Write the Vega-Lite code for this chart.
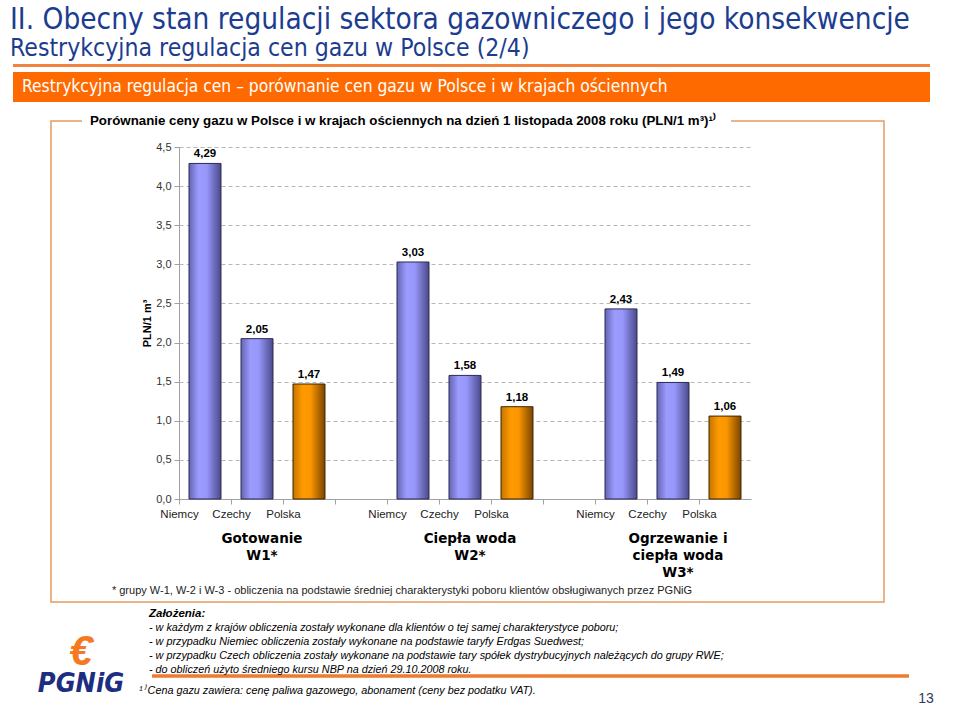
{
  "$schema": "https://vega.github.io/schema/vega-lite/v6.json",
  "padding": {"left": 10, "top": 4, "right": 5, "bottom": 0},
  "background": "white",
  "config": {
    "font": "Liberation Sans",
    "view": {"stroke": null}
  },
  "title": {
    "text": "II. Obecny stan regulacji sektora gazowniczego i jego konsekwencje",
    "subtitle": "Restrykcyjna regulacja cen gazu w Polsce (2/4)",
    "anchor": "start",
    "frame": "bounds",
    "font": "DejaVu Sans Condensed, Liberation Sans Narrow, sans-serif",
    "fontSize": 29.5,
    "fontWeight": "normal",
    "color": "#1c3d8f",
    "subtitleFont": "DejaVu Sans Condensed, Liberation Sans Narrow, sans-serif",
    "subtitleFontSize": 24.6,
    "subtitleColor": "#1c3d8f",
    "subtitlePadding": 2,
    "offset": 2,
    "dx": -3
  },
  "datasets": {
    "prices": [
      {"slot": "1_Niemcy", "kraj": "Niemcy", "grupa": "W1", "cena": 4.29},
      {"slot": "1_Czechy", "kraj": "Czechy", "grupa": "W1", "cena": 2.05},
      {"slot": "1_Polska", "kraj": "Polska", "grupa": "W1", "cena": 1.47},
      {"slot": "2_Niemcy", "kraj": "Niemcy", "grupa": "W2", "cena": 3.03},
      {"slot": "2_Czechy", "kraj": "Czechy", "grupa": "W2", "cena": 1.58},
      {"slot": "2_Polska", "kraj": "Polska", "grupa": "W2", "cena": 1.18},
      {"slot": "3_Niemcy", "kraj": "Niemcy", "grupa": "W3", "cena": 2.43},
      {"slot": "3_Czechy", "kraj": "Czechy", "grupa": "W3", "cena": 1.49},
      {"slot": "3_Polska", "kraj": "Polska", "grupa": "W3", "cena": 1.06}
    ],
    "grupy": [
      {"slot": "1_Czechy", "nazwa": "Gotowanie|W1*"},
      {"slot": "2_Czechy", "nazwa": "Ciepła woda|W2*"},
      {"slot": "3_Czechy", "nazwa": "Ogrzewanie i|ciepła woda|W3*"}
    ],
    "przypis": [
      {"tekst": "*  grupy W-1, W-2 i W-3  - obliczenia na podstawie średniej charakterystyki poboru klientów obsługiwanych przez PGNiG"}
    ]
  },
  "spacing": 0,
  "vconcat": [
    {
      "width": 917, "height": 3,
      "view": {"fill": "#f0843c", "stroke": null},
      "data": {"values": []},
      "mark": "text",
      "encoding": {"text": {"value": ""}}
    },
    {
      "width": 1, "height": 5,
      "data": {"values": []},
      "mark": "text",
      "encoding": {"text": {"value": ""}}
    },
    {
      "width": 917, "height": 30,
      "view": {"fill": "#ff6a00", "stroke": null},
      "title": {
        "text": "Restrykcyjna regulacja cen – porównanie cen gazu w Polsce i w krajach ościennych",
        "anchor": "start", "frame": "group", "orient": "top",
        "dx": 9, "offset": -32.3, "baseline": "middle",
        "color": "white",
        "font": "DejaVu Sans Condensed, Liberation Sans Narrow, sans-serif",
        "fontSize": 17.3, "fontWeight": "normal"
      },
      "data": {"values": []},
      "mark": "text",
      "encoding": {"text": {"value": ""}}
    },
    {
      "width": 1, "height": 10.5,
      "data": {"values": []},
      "mark": "text",
      "encoding": {"text": {"value": ""}}
    },
    {
      "spacing": 0,
      "bounds": "flush",
      "hconcat": [
        {
          "width": 38, "height": 481,
          "data": {"values": []},
          "mark": "text",
          "encoding": {"text": {"value": ""}}
        },
        {
          "width": 833, "height": 481,
          "view": {"stroke": "#e39b62", "strokeWidth": 1.5, "strokeDash": [31, 649, 3000]},
          "title": {
            "text": "Porównanie ceny gazu w Polsce i w krajach ościennych na dzień 1 listopada 2008 roku (PLN/1 m³)¹⁾",
            "anchor": "start", "frame": "group", "orient": "top",
            "dx": 39, "offset": -13.3, "baseline": "middle",
            "fontSize": 13.3, "fontWeight": "bold", "color": "#000"
          },
          "data": {"name": "prices"},
          "layer": [
            {
              "transform": [{"filter": "datum.kraj != 'Polska'"}],
              "mark": {
                "type": "bar", "width": {"band": 0.615}, "stroke": "#2a2a55", "strokeWidth": 1,
                "fill": {"gradient": "linear", "x1": 0, "x2": 1, "y1": 0, "y2": 0,
                         "stops": [{"offset": 0, "color": "#6464b4"}, {"offset": 0.3, "color": "#9c9cff"}, {"offset": 0.55, "color": "#9797fb"}, {"offset": 1, "color": "#4a4a8a"}]}
              },
              "encoding": {
                "x": {"field": "slot", "type": "nominal",
                      "scale": {"domain": ["1_Niemcy","1_Czechy","1_Polska","gap1","2_Niemcy","2_Czechy","2_Polska","gap2","3_Niemcy","3_Czechy","3_Polska"], "range": [128, 700], "paddingInner": 0, "paddingOuter": 0},
                      "axis": {"orient": "bottom", "offset": -103, "domain": true, "domainColor": "#a0a0a0", "grid": false,
                               "ticks": true, "tickSize": 5, "tickColor": "#a0a0a0", "tickOffset": -26,
                               "labelExpr": "indexof(datum.value, '_') > 0 ? split(datum.value, '_')[1] : ''",
                               "labelAngle": 0, "labelFontSize": 11.5, "labelColor": "#222", "labelPadding": 4, "title": null}},
                "y": {"field": "cena", "type": "quantitative",
                      "scale": {"domain": [0, 4.5], "range": [378, 26], "nice": false},
                      "axis": {"orient": "left", "offset": -128, "values": [0, 0.5, 1, 1.5, 2, 2.5, 3, 3.5, 4, 4.5],
                               "labelExpr": "replace(format(datum.value, '.1f'), '.', ',')",
                               "domain": true, "domainColor": "#a0a0a0", "ticks": true, "tickSize": 5, "tickColor": "#a0a0a0",
                               "grid": true, "gridColor": "#b8b8b8", "gridDash": [4, 3],
                               "labelFontSize": 11, "labelColor": "#333", "labelPadding": 3,
                               "title": "PLN/1 m³", "titleFontSize": 11, "titleFontWeight": "bold", "titleColor": "#000", "titlePadding": 3}}
              }
            },
            {
              "transform": [{"filter": "datum.kraj == 'Polska'"}],
              "mark": {
                "type": "bar", "width": {"band": 0.615}, "stroke": "#3d2500", "strokeWidth": 1,
                "fill": {"gradient": "linear", "x1": 0, "x2": 1, "y1": 0, "y2": 0,
                         "stops": [{"offset": 0, "color": "#c47500"}, {"offset": 0.3, "color": "#ff9a00"}, {"offset": 0.55, "color": "#fb9600"}, {"offset": 1, "color": "#7a4500"}]}
              },
              "encoding": {
                "x": {"field": "slot", "type": "nominal",
                      "scale": {"domain": ["1_Niemcy","1_Czechy","1_Polska","gap1","2_Niemcy","2_Czechy","2_Polska","gap2","3_Niemcy","3_Czechy","3_Polska"], "range": [128, 700], "paddingInner": 0, "paddingOuter": 0}},
                "y": {"field": "cena", "type": "quantitative",
                      "scale": {"domain": [0, 4.5], "range": [378, 26], "nice": false}}
              }
            },
            {
              "transform": [{"calculate": "replace(format(datum.cena, '.2f'), '.', ',')", "as": "etykieta"}],
              "mark": {"type": "text", "dy": -9, "fontSize": 11.5, "fontWeight": "bold", "color": "#000"},
              "encoding": {
                "x": {"field": "slot", "type": "nominal",
                      "scale": {"domain": ["1_Niemcy","1_Czechy","1_Polska","gap1","2_Niemcy","2_Czechy","2_Polska","gap2","3_Niemcy","3_Czechy","3_Polska"], "range": [128, 700], "paddingInner": 0, "paddingOuter": 0}},
                "y": {"field": "cena", "type": "quantitative",
                      "scale": {"domain": [0, 4.5], "range": [378, 26], "nice": false}},
                "text": {"field": "etykieta"}
              }
            },
            {
              "data": {"name": "grupy"},
              "mark": {"type": "text", "baseline": "top", "align": "center", "dx": 5, "lineBreak": "|", "lineHeight": 17,
                       "font": "DejaVu Sans", "fontSize": 13.5, "fontWeight": "bold", "color": "#000"},
              "encoding": {
                "x": {"field": "slot", "type": "nominal",
                      "scale": {"domain": ["1_Niemcy","1_Czechy","1_Polska","gap1","2_Niemcy","2_Czechy","2_Polska","gap2","3_Niemcy","3_Czechy","3_Polska"], "range": [128, 700], "paddingInner": 0, "paddingOuter": 0}},
                "y": {"datum": -0.422, "type": "quantitative",
                      "scale": {"domain": [0, 4.5], "range": [378, 26], "nice": false}},
                "text": {"field": "nazwa"}
              }
            },
            {
              "data": {"name": "przypis"},
              "mark": {"type": "text", "baseline": "middle", "align": "center", "dx": -11, "fontSize": 11, "color": "#222"},
              "encoding": {
                "x": {"datum": "2_Niemcy", "type": "nominal",
                      "scale": {"domain": ["1_Niemcy","1_Czechy","1_Polska","gap1","2_Niemcy","2_Czechy","2_Polska","gap2","3_Niemcy","3_Czechy","3_Polska"], "range": [128, 700], "paddingInner": 0, "paddingOuter": 0}},
                "y": {"datum": -1.176, "type": "quantitative",
                      "scale": {"domain": [0, 4.5], "range": [378, 26], "nice": false}},
                "text": {"field": "tekst"}
              }
            }
          ]
        }
      ]
    },
    {
      "width": 1, "height": 2,
      "data": {"values": []},
      "mark": "text",
      "encoding": {"text": {"value": ""}}
    },
    {
      "spacing": 0,
      "hconcat": [
        {
          "width": 124, "height": 97,
          "data": {"values": [{"part": "a", "t": "€"}, {"part": "b", "t": "PGNiG"}]},
          "layer": [
            {
              "transform": [{"filter": "datum.part == 'a'"}],
              "mark": {"type": "text", "fontSize": 42, "fontWeight": "bold", "fontStyle": "italic", "color": "#f47920", "baseline": "middle", "dx": 6},
              "encoding": {
                "y": {"field": "part", "type": "nominal", "axis": null, "scale": {"type": "point", "domain": ["a", "b"], "padding": 1.065, "align": 0.697}},
                "text": {"field": "t"}
              }
            },
            {
              "transform": [{"filter": "datum.part == 'b'"}],
              "mark": {"type": "text", "fontSize": 27, "fontWeight": "bold", "fontStyle": "italic", "color": "#1d2e80", "baseline": "middle", "dx": 6,
                       "font": "DejaVu Sans Condensed, Liberation Sans Narrow, sans-serif"},
              "encoding": {
                "y": {"field": "part", "type": "nominal", "axis": null, "scale": {"type": "point", "domain": ["a", "b"], "padding": 1.065, "align": 0.697}},
                "text": {"field": "t"}
              }
            }
          ]
        },
        {
          "spacing": 0,
          "bounds": "flush",
          "vconcat": [
            {
              "width": 770, "height": 69,
              "data": {"values": []},
              "mark": "text",
              "encoding": {"text": {"value": ""}}
            },
            {
              "width": 770, "height": 1,
              "view": {"stroke": "#f07a30", "strokeWidth": 3.5, "strokeDash": [0, 13, 757, 5000]},
              "title": {
                "text": "Założenia:",
                "subtitle": [
                  "- w każdym z krajów obliczenia zostały wykonane dla klientów o tej samej charakterystyce poboru;",
                  "- w przypadku Niemiec obliczenia zostały wykonane na podstawie taryfy Erdgas Suedwest;",
                  "- w przypadku Czech obliczenia zostały wykonane na podstawie tary spółek dystrybucyjnych należących do grupy RWE;",
                  "- do obliczeń użyto średniego kursu NBP na dzień 29.10.2008 roku."
                ],
                "anchor": "start", "frame": "group", "orient": "top", "dx": 10, "offset": 1,
                "fontSize": 11.5, "fontWeight": "bold", "fontStyle": "italic", "color": "#000",
                "subtitleFontSize": 10.8, "subtitleFontStyle": "italic", "subtitleColor": "#000", "subtitleLineHeight": 14, "subtitlePadding": 3
              },
              "data": {"values": []},
              "mark": "text",
              "encoding": {"text": {"value": ""}}
            },
            {
              "width": 770, "height": 28,
              "title": {
                "text": "¹⁾ Cena gazu zawiera: cenę paliwa gazowego, abonament (ceny bez podatku VAT).",
                "anchor": "start", "frame": "group", "orient": "top", "dx": 0, "offset": -25, "baseline": "middle",
                "fontSize": 10.8, "fontWeight": "normal", "fontStyle": "italic", "color": "#000"
              },
              "data": {"values": []},
              "mark": "text",
              "encoding": {"text": {"value": ""}}
            }
          ]
        },
        {
          "width": 30, "height": 97,
          "data": {"values": [{"nr": "13"}]},
          "mark": {"type": "text", "fontSize": 14, "color": "#2d3b5e", "baseline": "middle"},
          "encoding": {
            "y": {"field": "nr", "type": "nominal", "axis": null, "scale": {"type": "point", "domain": ["13"], "padding": 0, "align": 0.95}},
            "text": {"field": "nr"}
          }
        }
      ]
    }
  ]
}
